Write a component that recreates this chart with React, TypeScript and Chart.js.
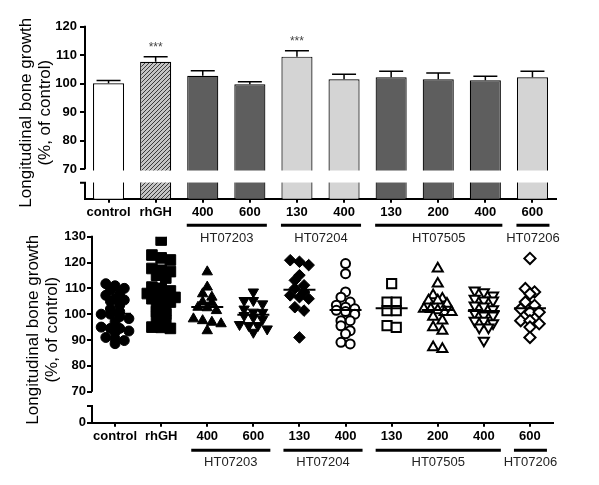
import React, { useEffect, useRef } from "react";
import { Chart, registerables } from "chart.js";
Chart.register(...registerables);

const FONT = "'Liberation Sans', Arial, sans-serif";

// ---------- data ----------
const categories = ["control", "rhGH", "400", "600", "130", "400", "130", "200", "400", "600"];
const barMeans = [100.2, 107.7, 102.8, 99.8, 109.5, 101.6, 102.3, 101.6, 101.2, 102.3];
const barErrors = [0.9, 1.8, 1.8, 0.9, 2.1, 1.7, 2.1, 2.2, 1.4, 2.1];
const significance = ["", "***", "", "", "***", "", "", "", "", ""];
const groupNames = ["HT07203", "HT07204", "HT07505", "HT07206"];
const groupFrom = [2, 4, 6, 9];
const groupTo = [3, 5, 8, 9];
const topTicks = [70, 80, 90, 100, 110, 120];
const bottomTicks = [70, 80, 90, 100, 110, 120, 130];
const yTitle = ["Longitudinal bone growth", "(%, of control)"];

const controlValues = [111.8, 111, 110, 109.5, 108, 107.3, 106, 105.5, 105, 103.5, 102, 101, 100, 100, 99, 98.3, 97, 95, 94.5, 94.5, 93.5, 93, 91, 90.5, 89.8, 88.6];
const rhghValues = [128.7, 122.9, 121.8, 121, 117.7, 117, 116.5, 115.1, 114, 110.5, 110, 109, 108, 107.3, 107, 106.5, 106, 105, 104.7, 103, 101.4, 101, 100, 99, 97.5, 95, 94.9, 94.5];
const ht07203_400 = [116.4, 110.5, 107.9, 106.6, 104.7, 104.5, 102.7, 102.5, 101.4, 98.2, 97.5, 96.9, 96.3, 93.6];
const ht07203_600 = [108.6, 105.3, 105.3, 104, 102, 100.8, 100.7, 99.5, 98.8, 98, 96, 95.6, 95.6, 94.3, 93];
const ht07204_130 = [120.9, 120.3, 119, 115.1, 113.1, 111.2, 110, 108.6, 107.3, 106.6, 106, 102.7, 101.4, 91];
const ht07204_400 = [119.6, 115.7, 108.6, 106.6, 104.7, 103.5, 102.7, 102.1, 101.5, 101, 100, 97.5, 97.5, 95.5, 93.6, 92.4, 89.1, 88.5];
const ht07505_130 = [111.8, 104.7, 104.7, 101.4, 101.4, 95.6, 94.9];
const ht07505_200 = [117.7, 111.8, 107.3, 106, 105.3, 105.3, 104, 102.1, 102, 101.5, 100.8, 100.8, 99, 97.5, 94.9, 93.6, 87.2, 86.5];
const ht07505_400 = [109.2, 108.5, 107.3, 106, 105.3, 105.3, 103.4, 103, 102, 100.5, 99.5, 99.5, 97.5, 97.5, 96.5, 94.9, 94.9, 89.8];
const ht07206_600 = [121.6, 109.9, 108.6, 107.9, 104.7, 103.4, 102, 100.8, 100.8, 97.5, 97.5, 96.3, 95, 91];

const scatterGroups = [controlValues, rhghValues, ht07203_400, ht07203_600, ht07204_130, ht07204_400, ht07505_130, ht07505_200, ht07505_400, ht07206_600];

// ---------- styles ----------
const barColors = ["#ffffff", "HATCH", "#5e5e5e", "#5e5e5e", "#d4d4d4", "#d4d4d4", "#5e5e5e", "#5e5e5e", "#5e5e5e", "#d4d4d4"];
const markerStyles = ["circle", "rect", "triangle", "triangle", "rectRot", "circle", "rect", "triangle", "triangle", "rectRot"];
const markerRotation = [0, 0, 0, 180, 0, 0, 0, 0, 180, 0];
const markerFilled = [true, true, true, true, true, false, false, false, false, false];
const markerRadius = [5, 7.5, 6, 6, 5.8, 4.5, 6.5, 5.8, 5.8, 5.6];

function swarmOffsets(values: number[]): number[] {
  const order = values.map((_, i) => i).sort((a, b) => values[b] - values[a]);
  const offsets = new Array(values.length).fill(0);
  let i = 0;
  while (i < order.length) {
    let j = i;
    const start = values[order[i]];
    while (j < order.length && start - values[order[j]] < 2.0) j++;
    const n = j - i;
    const step = n > 1 ? Math.min(0.2, 0.6 / (n - 1)) : 0;
    for (let k = 0; k < n; k++) offsets[order[i + k]] = (k - (n - 1) / 2) * step;
    i = j;
  }
  return offsets;
}

function drawGroups(chart: any, pixelFor: (i: number) => number, lineY: number, textY: number) {
  const ctx = chart.ctx;
  ctx.save();
  ctx.strokeStyle = "#000";
  ctx.lineWidth = 3;
  ctx.fillStyle = "#222";
  ctx.font = `13px ${FONT}`;
  ctx.textAlign = "center";
  ctx.textBaseline = "middle";
  groupNames.forEach((name, g) => {
    const x1 = pixelFor(groupFrom[g]) - 16;
    const x2 = pixelFor(groupTo[g]) + 17;
    ctx.beginPath();
    ctx.moveTo(x1, lineY);
    ctx.lineTo(x2, lineY);
    ctx.stroke();
    ctx.fillText(name, (x1 + x2) / 2, textY);
  });
  ctx.restore();
}

function drawBrokenYAxis(chart: any, breakValue: number, gap: number) {
  const { ctx, chartArea } = chart;
  const y = chart.scales.y;
  const x = chartArea.left;
  const yb = y.getPixelForValue(breakValue);
  ctx.save();
  ctx.strokeStyle = "#000";
  ctx.lineWidth = 2;
  ctx.beginPath();
  ctx.moveTo(x, chartArea.top - 1);
  ctx.lineTo(x, yb);
  ctx.stroke();
  ctx.beginPath();
  ctx.moveTo(x - 5, yb + gap);
  ctx.lineTo(x, yb + gap);
  ctx.lineTo(x, chartArea.bottom + 1);
  ctx.stroke();
  ctx.restore();
}

export default function App() {
  const topRef = useRef<HTMLCanvasElement>(null);
  const botRef = useRef<HTMLCanvasElement>(null);

  useEffect(() => {
    const topCanvas = topRef.current!;
    const botCanvas = botRef.current!;
    const tctx = topCanvas.getContext("2d")!;

    const pc = document.createElement("canvas");
    pc.width = 4;
    pc.height = 4;
    const p = pc.getContext("2d")!;
    p.fillStyle = "#c4c4c4";
    p.fillRect(0, 0, 4, 4);
    p.strokeStyle = "#3a3a3a";
    p.lineWidth = 1;
    p.beginPath();
    p.moveTo(-1, 5); p.lineTo(5, -1);
    p.moveTo(-1, 1); p.lineTo(1, -1);
    p.moveTo(3, 5); p.lineTo(5, 3);
    p.stroke();
    const hatch = tctx.createPattern(pc, "repeat")!;

    const tickFont = { family: FONT, size: 13, weight: "bold" as const };

    const topPlugin = {
      id: "topDecor",
      afterDatasetsDraw(chart: any) {
        const { ctx, chartArea } = chart;
        const xs = chart.scales.x;
        const ys = chart.scales.y;
        ctx.save();
        ctx.strokeStyle = "#000";
        ctx.lineWidth = 1.5;
        barMeans.forEach((m, i) => {
          const cx = xs.getPixelForValue(i);
          const y0 = ys.getPixelForValue(m);
          const y1 = ys.getPixelForValue(m + barErrors[i]);
          ctx.beginPath();
          ctx.moveTo(cx, y0);
          ctx.lineTo(cx, y1);
          ctx.moveTo(cx - 12, y1);
          ctx.lineTo(cx + 12, y1);
          ctx.stroke();
          if (significance[i]) {
            ctx.fillStyle = "#444";
            ctx.font = `12px ${FONT}`;
            ctx.textAlign = "center";
            ctx.textBaseline = "middle";
            ctx.fillText(significance[i], cx, y1 - 9);
          }
        });
        const yb = ys.getPixelForValue(70);
        ctx.fillStyle = "#fff";
        ctx.fillRect(chartArea.left - 3, yb + 1.2, chartArea.right - chartArea.left + 3, 12);
        ctx.restore();
        drawBrokenYAxis(chart, 70, 13.4);
      },
      afterDraw(chart: any) {
        const xs = chart.scales.x;
        drawGroups(chart, (i) => xs.getPixelForValue(i), chart.chartArea.bottom + 26.5, chart.chartArea.bottom + 39.5);
      },
    };

    const topChart = new Chart(topCanvas, {
      type: "bar",
      data: {
        labels: categories,
        datasets: [
          {
            data: barMeans,
            backgroundColor: barColors.map((c) => (c === "HATCH" ? hatch : c)) as any,
            borderColor: "#000",
            borderWidth: 1.2,
            barPercentage: 0.66,
            categoryPercentage: 1,
          },
        ],
      },
      options: {
        animation: false,
        responsive: false,
        maintainAspectRatio: false,
        events: [],
        layout: { padding: { left: 0, top: 26.7, right: 43, bottom: 485 - 198.7 - 20 } },
        plugins: { legend: { display: false }, tooltip: { enabled: false } },
        scales: {
          x: {
            type: "category",
            offset: true,
            grid: { display: true, drawOnChartArea: false, drawTicks: true, tickLength: 4, offset: false, color: "#000", lineWidth: 2 },
            border: { display: true, color: "#000", width: 2 },
            ticks: { color: "#000", font: tickFont, padding: 2, maxRotation: 0, autoSkip: false },
            afterFit: (s: any) => { s.height = 20; },
          },
          y: {
            type: "linear",
            min: 59.7,
            max: 120,
            afterBuildTicks: (s: any) => { s.ticks = topTicks.map((v) => ({ value: v })); },
            grid: { display: true, drawOnChartArea: false, drawTicks: true, tickLength: 5, color: "#000", lineWidth: 2 },
            border: { display: false },
            ticks: { color: "#000", font: tickFont, padding: 3 },
            title: { display: true, text: yTitle, color: "#000", font: { family: FONT, size: 17, lineHeight: 1.08 }, padding: { top: 17.5, bottom: 0 } },
            afterFit: (s: any) => { s.width = 85; },
          },
        },
      },
      plugins: [topPlugin],
    } as any);

    const datasets = scatterGroups.map((vals, g) => {
      const offs = swarmOffsets(vals);
      return {
        data: vals.map((v, i) => ({ x: g + offs[i], y: v })),
        pointStyle: markerStyles[g],
        rotation: markerRotation[g],
        radius: markerRadius[g],
        pointRadius: markerRadius[g],
        backgroundColor: markerFilled[g] ? "#000" : "#fff",
        borderColor: "#000",
        borderWidth: markerFilled[g] ? 1 : 2,
      };
    });

    const botPlugin = {
      id: "botDecor",
      afterDatasetsDraw(chart: any) {
        const { ctx } = chart;
        const xs = chart.scales.x;
        const ys = chart.scales.y;
        ctx.save();
        ctx.strokeStyle = "#000";
        ctx.lineWidth = 2;
        barMeans.forEach((m, i) => {
          const cx = xs.getPixelForValue(i);
          const y = ys.getPixelForValue(m);
          ctx.beginPath();
          ctx.moveTo(cx - 16, y);
          ctx.lineTo(cx + 16, y);
          ctx.stroke();
        });
        ctx.restore();
        drawBrokenYAxis(chart, 70, 14.3);
      },
      afterDraw(chart: any) {
        const xs = chart.scales.x;
        drawGroups(chart, (i) => xs.getPixelForValue(i), chart.chartArea.bottom + 27.5, chart.chartArea.bottom + 39.5);
      },
    };

    const botChart = new Chart(botCanvas, {
      type: "scatter",
      data: { datasets },
      options: {
        animation: false,
        responsive: false,
        maintainAspectRatio: false,
        events: [],
        layout: { padding: { left: 7, top: 236.7, right: 46, bottom: 485 - 422.7 - 20 } },
        plugins: { legend: { display: false }, tooltip: { enabled: false } },
        scales: {
          x: {
            type: "linear",
            min: -0.5,
            max: 9.5,
            afterBuildTicks: (s: any) => { s.ticks = categories.map((_, i) => ({ value: i })); },
            grid: { display: true, drawOnChartArea: false, drawTicks: true, tickLength: 4, color: "#000", lineWidth: 2 },
            border: { display: true, color: "#000", width: 2 },
            ticks: { color: "#000", font: tickFont, padding: 2, maxRotation: 0, autoSkip: false, callback: (v: any) => categories[Math.round(v)] ?? "" },
            afterFit: (s: any) => { s.height = 20; },
          },
          y: {
            type: "linear",
            min: 58,
            max: 130,
            afterBuildTicks: (s: any) => { s.ticks = [58, ...bottomTicks].map((v) => ({ value: v })); },
            grid: { display: true, drawOnChartArea: false, drawTicks: true, tickLength: 5, color: "#000", lineWidth: 2 },
            border: { display: false },
            ticks: { color: "#000", font: tickFont, padding: 1, callback: (v: any) => (v === 58 ? "0" : String(v)) },
            title: { display: true, text: yTitle, color: "#000", font: { family: FONT, size: 17, lineHeight: 1.08 }, padding: { top: 17.5, bottom: 0 } },
            afterFit: (s: any) => { s.width = 85; },
          },
        },
      },
      plugins: [botPlugin],
    } as any);

    return () => {
      topChart.destroy();
      botChart.destroy();
    };
  }, []);

  const canvasStyle: React.CSSProperties = { position: "absolute", left: 0, top: 0, width: 599, height: 485 };
  return (
    <div style={{ position: "absolute", left: 0, top: 0, width: 599, height: 485, background: "#fff" }}>
      <canvas ref={topRef} width={599} height={485} style={canvasStyle} />
      <canvas ref={botRef} width={599} height={485} style={canvasStyle} />
    </div>
  );
}
